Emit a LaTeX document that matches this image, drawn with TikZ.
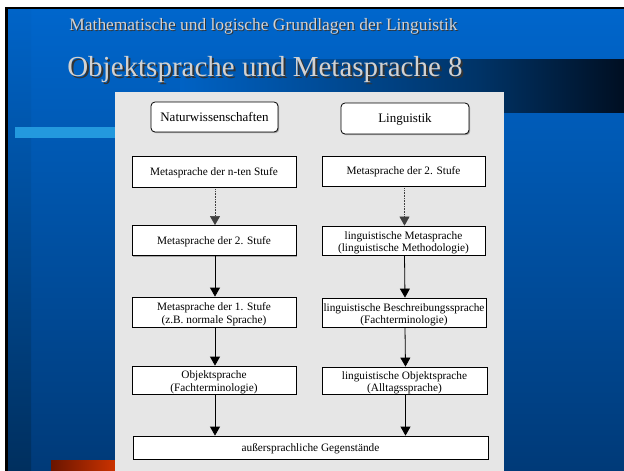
\documentclass[tikz,border=0pt]{standalone}
\usepackage{fontspec}
\setmainfont{Liberation Serif}
\usetikzlibrary{arrows.meta,shadows}
\definecolor{bgtop}{HTML}{0066CC}
\definecolor{bgbot}{HTML}{003A78}
\definecolor{striptop}{HTML}{0064C8}
\definecolor{stripbot}{HTML}{002F5E}
\definecolor{panel}{HTML}{E6E6E6}
\definecolor{titlegray}{HTML}{D2D2D2}
\definecolor{cyanstripe}{HTML}{2399DE}
\definecolor{bandmid}{HTML}{003366}
\definecolor{bandend}{HTML}{000F22}
\definecolor{bandstart}{HTML}{0062C4}
\definecolor{redl}{HTML}{6B1500}
\definecolor{redr}{HTML}{CC3300}
\newcommand{\shadowtext}[2]{\makebox[0pt][l]{\hspace*{#1}\raisebox{-#1}{\textcolor{black!80}{#2}}}\textcolor{titlegray}{#2}}
\newcommand{\bt}[2][2.5pt]{\raisebox{-#1}[\height][\depth]{\begin{tabular}{@{}c@{}}#2\end{tabular}}}
\tikzset{
  box/.style={draw=black, fill=white, line width=0.8pt, inner sep=0pt,
    align=center, font=\fontsize{11.3}{12.3}\selectfont,
    drop shadow={shadow xshift=1.2pt, shadow yshift=-1.2pt, fill=gray!70, opacity=1}},
  rbox/.style={box, rounded corners=4pt, font=\fontsize{13}{15}\selectfont},
  arr/.style={-{Triangle[width=10pt,length=9pt]}, line width=0.8pt, black},
  darr/.style={-{Triangle[width=10pt,length=9pt]}, line width=0.6pt, black!75, dash pattern=on 0.8pt off 0.8pt},
  ttl/.style={inner sep=0pt}
}
\begin{document}
\begin{tikzpicture}[x=1pt,y=-1pt]
\useasboundingbox (0,0) rectangle (624,471);
\fill[white] (0,0) rectangle (624,471);
% frame lines
\fill[black] (5,7) rectangle (624,471);
% background gradient
\shade[top color=bgtop, bottom color=bgbot] (8,9) rectangle (624,471);
% left darker strip
\shade[top color=striptop, bottom color=stripbot] (8,9) rectangle (31,471);
% dark title band
\shade[left color=bandstart, right color=bandmid] (180,59) rectangle (480,112);
\shade[left color=bandmid, right color=bandend] (479.5,59) rectangle (624,112);
% cyan stripe
\fill[cyanstripe] (15,127) rectangle (116,138);
% red bar
\shade[left color=redl, right color=redr] (51,460) rectangle (116,471);
% grey panel
\fill[panel] (115,92) rectangle (504,471);
% titles
\node[ttl, font=\fontsize{17.4}{20}\selectfont] (t1) at (263.5,27) {\shadowtext{1pt}{Mathematische und logische Grundlagen der Linguistik}};
\node[ttl, font=\fontsize{29}{32}\selectfont] (t2) at (265,70.5) {\shadowtext{2pt}{Objektsprache und Metasprache 8}};
% header boxes
\node[rbox, minimum width=127pt, minimum height=30pt] (nat) at (214.5,117) {\bt[1pt]{Naturwissenschaften}};
\node[rbox, minimum width=128pt, minimum height=31pt] (lin) at (405,118.5) {\bt[1pt]{Linguistik}};
% left column
\node[box, minimum width=164pt, minimum height=31pt] (l1) at (214,171.5) {\bt[1.5pt]{Metasprache der n-ten Stufe}};
\node[box, minimum width=164pt, minimum height=30pt] (l2) at (214,240.5) {\bt[1.5pt]{Metasprache der 2. Stufe}};
\node[box, minimum width=164pt, minimum height=30pt] (l3) at (214,312) {\bt{Metasprache der 1. Stufe\\(z.B. normale Sprache)}};
\node[box, minimum width=164pt, minimum height=28pt] (l4) at (214,380) {\bt{Objektsprache\\(Fachterminologie)}};
% right column
\node[box, minimum width=163pt, minimum height=30pt] (r1) at (403.5,171) {\bt[1.5pt]{Metasprache der 2. Stufe}};
\node[box, minimum width=163pt, minimum height=29pt] (r2) at (403.5,240.5) {\bt{linguistische Metasprache\\(linguistische Methodologie)}};
\node[box, minimum width=164pt, minimum height=29pt] (r3) at (404,312.5) {\bt{linguistische Beschreibungssprache\\(Fachterminologie)}};
\node[box, minimum width=165pt, minimum height=27pt] (r4) at (404.5,380.5) {\bt{linguistische Objektsprache\\(Alltagssprache)}};
% bottom
\node[box, minimum width=355pt, minimum height=23pt] (bot) at (310.5,447.5) {\bt[2pt]{außersprachliche Gegenstände}};
% arrows
\draw[darr] ([xshift=1pt,yshift=-2pt]l1.south) -- ([xshift=1pt]l2.north);
\draw[darr] ([xshift=1pt,yshift=-2pt]r1.south) -- ([xshift=1pt]r2.north);
\draw[arr] ([xshift=1pt]l2.south) -- ([xshift=1pt]l3.north);
\draw[arr] ([xshift=1pt]r2.south) -- ([xshift=1pt]r3.north);
\draw[arr] ([xshift=1pt]l3.south) -- ([xshift=1pt]l4.north);
\draw[arr] ([xshift=1pt]r3.south) -- ([xshift=1pt]r4.north);
\draw[arr] ([xshift=1pt]l4.south) -- ([xshift=1pt]l4.south |- bot.north);
\draw[arr] ([xshift=1pt]r4.south) -- ([xshift=1pt]r4.south |- bot.north);
\end{tikzpicture}
\end{document}
